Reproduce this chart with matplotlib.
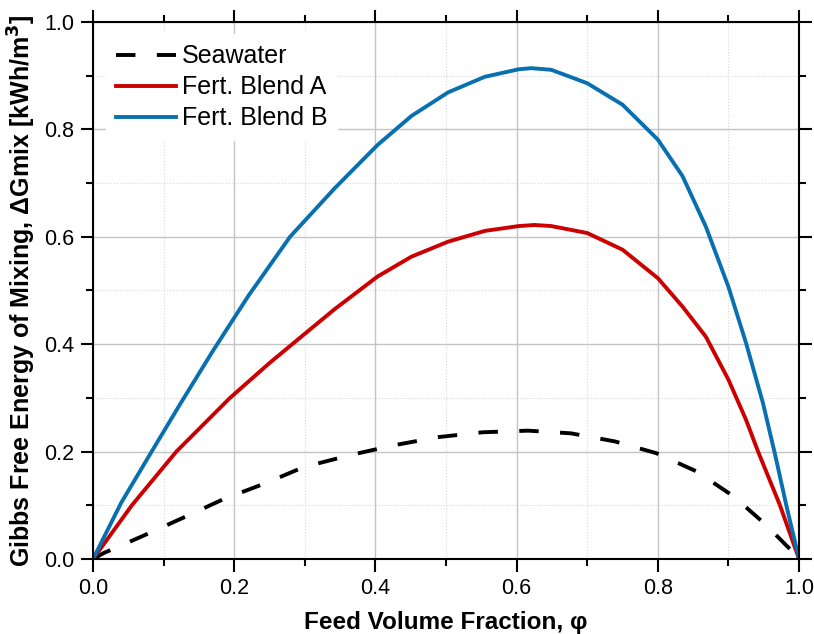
import numpy as np
import matplotlib
matplotlib.use("Agg")
import matplotlib.pyplot as plt
from matplotlib.ticker import MultipleLocator

# values (x = feed volume fraction, y = kWh/m3)
sea_x = [0.0, 0.015, 0.069, 0.133, 0.184, 0.246, 0.298, 0.366, 0.427, 0.489,
         0.552, 0.616, 0.677, 0.739, 0.798, 0.855, 0.907, 0.952, 0.992, 1.0]
sea_y = [0.0, 0.011, 0.042, 0.080, 0.111, 0.142, 0.171, 0.194, 0.212, 0.227,
         0.236, 0.239, 0.234, 0.219, 0.197, 0.163, 0.117, 0.065, 0.012, 0.0]

a_x = [0.0, 0.055, 0.118, 0.156, 0.194, 0.250, 0.295, 0.342, 0.403, 0.451,
       0.503, 0.555, 0.603, 0.625, 0.649, 0.700, 0.750, 0.800, 0.835, 0.868,
       0.900, 0.925, 0.942, 0.973, 1.0]
a_y = [0.0, 0.100, 0.200, 0.250, 0.300, 0.365, 0.414, 0.465, 0.526, 0.563,
       0.591, 0.611, 0.620, 0.622, 0.620, 0.607, 0.576, 0.523, 0.470, 0.414,
       0.334, 0.259, 0.200, 0.100, 0.0]

b_x = [0.0, 0.040, 0.083, 0.125, 0.170, 0.220, 0.279, 0.342, 0.403, 0.451,
       0.503, 0.555, 0.603, 0.621, 0.649, 0.700, 0.750, 0.800, 0.835, 0.868,
       0.900, 0.925, 0.949, 0.966, 0.982, 1.0]
b_y = [0.0, 0.105, 0.200, 0.292, 0.388, 0.490, 0.600, 0.690, 0.771, 0.825,
       0.869, 0.898, 0.912, 0.914, 0.911, 0.886, 0.846, 0.781, 0.713, 0.619,
       0.507, 0.402, 0.290, 0.195, 0.100, 0.0]

labels = ["Seawater", "Fert. Blend A", "Fert. Blend B"]

plt.rcParams["font.family"] = ["Liberation Sans", "DejaVu Sans"]

fig = plt.figure(figsize=(8.14, 6.34), dpi=100)
ax = fig.add_axes([0.1143, 0.1183, 0.8673, 0.847])

ax.plot(sea_x, sea_y, color="black", lw=2.8, dashes=(5, 5.5),
        solid_joinstyle="round", label=labels[0])
ax.plot(a_x, a_y, color="#cc0000", lw=2.8, solid_joinstyle="round", label=labels[1])
ax.plot(b_x, b_y, color="#0870b0", lw=2.8, solid_joinstyle="round", label=labels[2])

ax.set_xlim(0, 1)
ax.set_ylim(0, 1)
ax.xaxis.set_major_locator(MultipleLocator(0.2))
ax.xaxis.set_minor_locator(MultipleLocator(0.1))
ax.yaxis.set_major_locator(MultipleLocator(0.2))
ax.yaxis.set_minor_locator(MultipleLocator(0.1))
ax.grid(which="major", color="#c4c4c4", lw=1.0, ls="-")
ax.grid(which="minor", color="#d8d8d8", lw=0.8, ls=":")
ax.set_axisbelow(True)

ax.tick_params(which="both", direction="out", top=True, right=True,
               labeltop=False, labelright=False, width=1.5, labelsize=15.5, pad=4.5)
ax.tick_params(which="major", length=9)
ax.tick_params(which="minor", length=5)
for s in ax.spines.values():
    s.set_linewidth(1.5)

ax.set_xlabel("Feed Volume Fraction, φ", fontsize=17.5, fontweight="bold", labelpad=9)
ax.set_ylabel("Gibbs Free Energy of Mixing, ΔGmix [kWh/m$^\\mathbf{3}$]",
              fontsize=18, fontweight="bold", labelpad=4)

leg = ax.legend(loc="upper left", frameon=True, fontsize=18, handlelength=2.4,
                handletextpad=0.25, labelspacing=0.28, borderaxespad=0.5,
                fancybox=False, framealpha=1.0)
leg.get_frame().set_edgecolor("white")

fig.savefig("out.png", dpi=100)
